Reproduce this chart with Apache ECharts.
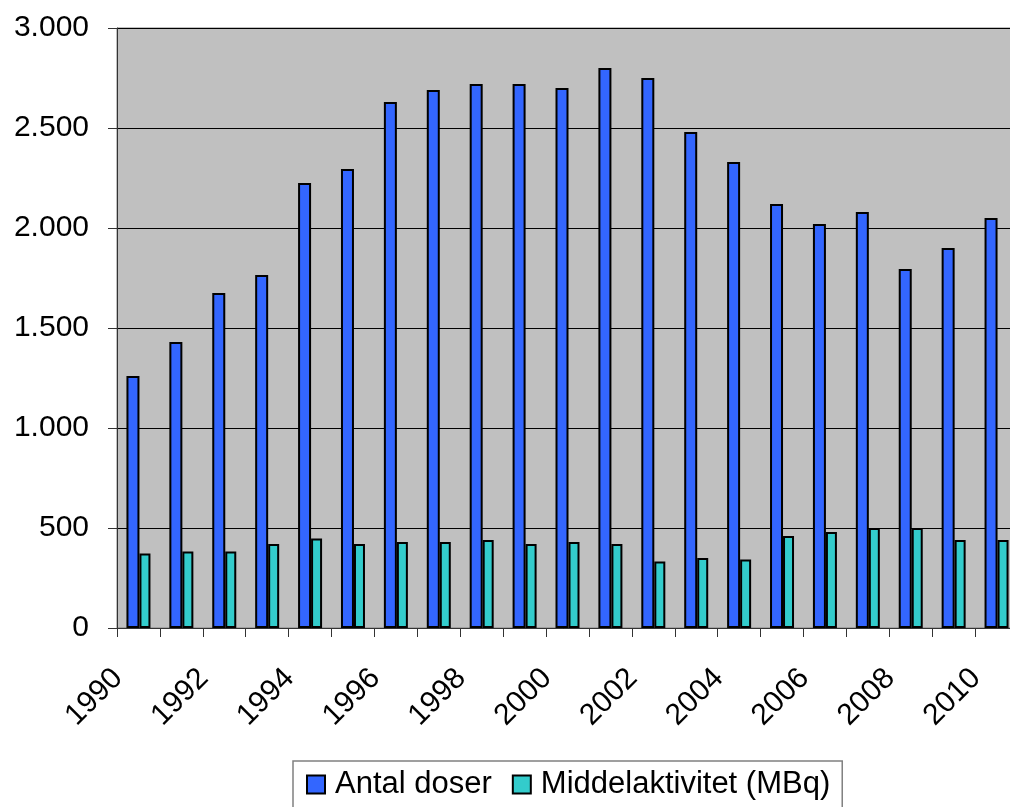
<!DOCTYPE html>
<html>
<head>
<meta charset="utf-8">
<script src="https://cdn.jsdelivr.net/npm/echarts@6/dist/echarts.min.js"></script>
<style>
  html, body { margin: 0; padding: 0; background: #ffffff; }
  #chart { width: 1010px; height: 807px; }
</style>
</head>
<body>
<div id="chart"></div>
<script>
// Years shown on the category axis
const years = ['1990','1991','1992','1993','1994','1995','1996','1997','1998','1999','2000',
               '2001','2002','2003','2004','2005','2006','2007','2008','2009','2010'];

// Number of doses per year
const antalDoser = [1260, 1430, 1675, 1765, 2225, 2295, 2630, 2690, 2720, 2720, 2700,
                    2800, 2750, 2480, 2330, 2120, 2020, 2080, 1795, 1900, 2050];

// Mean activity per year (MBq)
const middelaktivitet = [372, 382, 382, 420, 448, 420, 430, 430, 440, 420, 430,
                         420, 333, 350, 342, 460, 480, 500, 500, 440, 440];

const seriesNames = ['Antal doser', 'Middelaktivitet (MBq)'];

const FONT = 'Liberation Sans, Arial, sans-serif';

const chart = echarts.init(document.getElementById('chart'), null, { renderer: 'canvas' });

chart.setOption({
  animation: false,
  backgroundColor: '#ffffff',
  grid: {
    left: 117,
    top: 28,
    width: 901,
    height: 600,
    outerBoundsMode: 'none',
    containLabel: false,
    show: true,
    backgroundColor: '#c0c0c0',
    borderColor: '#808080',
    borderWidth: 1
  },
  legend: {
    left: 293,
    top: 761,
    padding: [8, 12, 10, 13],
    itemWidth: 18,
    itemHeight: 18,
    itemGap: 20,
    borderColor: '#808080',
    borderWidth: 1.5,
    backgroundColor: '#ffffff',
    icon: 'rect',
    textStyle: {
      fontFamily: FONT,
      fontSize: 31,
      color: '#000000',
      padding: [0, 0, 0, 5]
    },
    itemStyle: { borderColor: '#000000', borderWidth: 2 },
    data: seriesNames
  },
  xAxis: {
    type: 'category',
    data: years,
    boundaryGap: true,
    axisLine: { show: true, lineStyle: { color: '#333333', width: 1 } },
    axisTick: { show: true, interval: 0, length: 9, inside: false, lineStyle: { color: '#333333' } },
    axisLabel: {
      interval: 1,
      rotate: 45,
      margin: 25,
      padding: [0, 29, 0, 0],
      fontFamily: FONT,
      fontSize: 30,
      color: '#000000',
      hideOverlap: false
    },
    splitLine: { show: false }
  },
  yAxis: {
    type: 'value',
    min: 0,
    max: 3000,
    interval: 500,
    axisLine: { show: true, lineStyle: { color: '#333333', width: 1 } },
    axisTick: { show: true, length: 9, inside: false, lineStyle: { color: '#333333' } },
    axisLabel: {
      margin: 28,
      fontFamily: FONT,
      fontSize: 30,
      color: '#000000',
      formatter: v => v.toString().replace(/\B(?=(\d{3})+(?!\d))/g, '.')
    },
    splitLine: { show: true, lineStyle: { color: '#000000', width: 1 } }
  },
  series: [
    {
      name: seriesNames[0],
      type: 'bar',
      data: antalDoser,
      barWidth: 13,
      barGap: '0%',
      itemStyle: { color: '#3366ff', borderColor: '#000000', borderWidth: 2 }
    },
    {
      name: seriesNames[1],
      type: 'bar',
      data: middelaktivitet,
      barWidth: 11,
      barGap: '0%',
      itemStyle: { color: '#33cccc', borderColor: '#000000', borderWidth: 2 }
    }
  ]
});
</script>
</body>
</html>
